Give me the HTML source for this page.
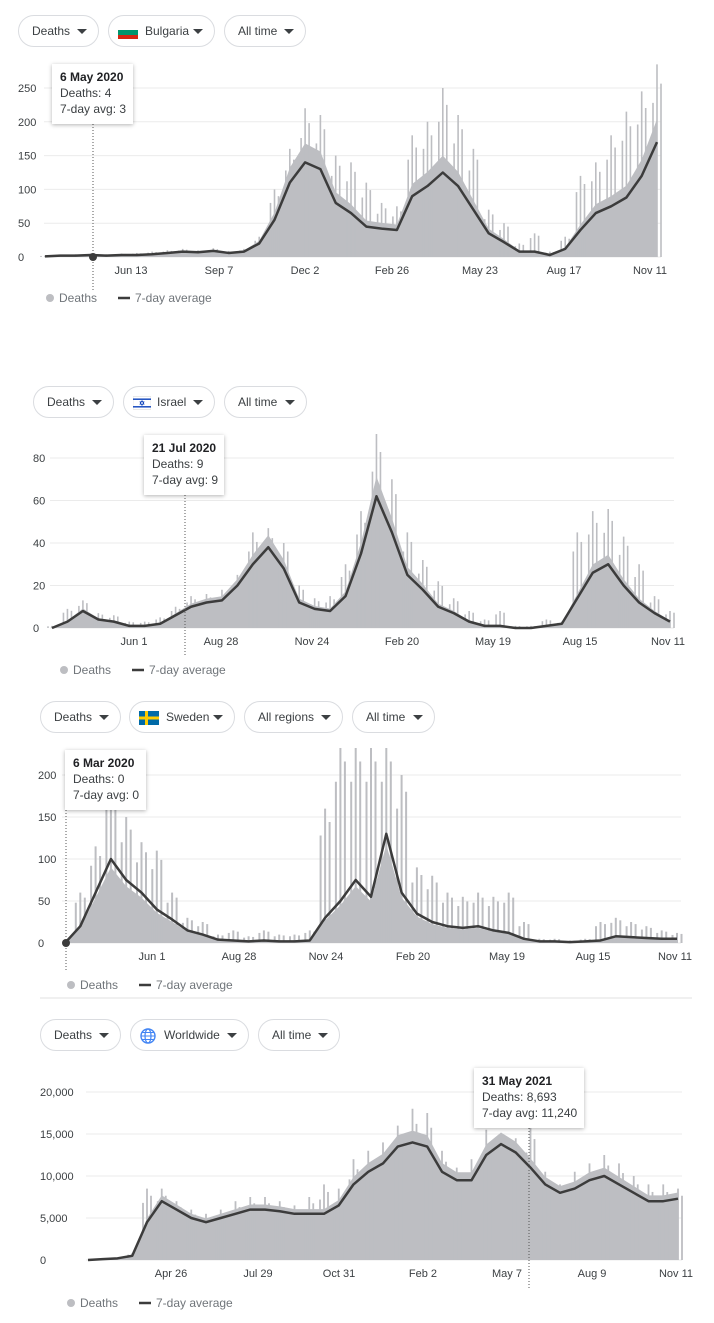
<!DOCTYPE html>
<html><head><meta charset="utf-8"><style>
body{margin:0;width:714px;height:1323px;background:#fff;position:relative;overflow:hidden;font-family:"Liberation Sans",Arial,sans-serif;color:#3c4043}
.pill{position:absolute;height:32px;border:1px solid #dadce0;border-radius:18px;box-sizing:border-box;font-size:12px;line-height:30px;padding-left:13px;color:#3c4043;background:#fff}
.pill .c{position:absolute;right:11px;top:13px;width:0;height:0;border-left:5px solid transparent;border-right:5px solid transparent;border-top:5px solid #3c4043}
.tip{position:absolute;background:#fff;box-shadow:0 1px 4px rgba(0,0,0,.3);font-size:12px;line-height:16px;padding:5px 8px;box-sizing:border-box;color:#3c4043;white-space:nowrap}
.tip b{color:#202124}
.flag{position:absolute;top:9px;left:9px;width:20px;height:14px}
</style></head><body>
<svg id="svg" width="714" height="1323" style="position:absolute;left:0;top:0"></svg>

<div class="pill" style="left:18px;top:15px;width:81px">Deaths<span class="c"></span></div>
<div class="pill" style="left:108px;top:15px;width:107px;padding-left:36px"><svg class="flag" viewBox="0 0 20 14"><rect width="20" height="5" fill="#fff"/><rect y="5" width="20" height="5" fill="#00966e"/><rect y="10" width="20" height="4" fill="#d62612"/></svg>Bulgaria<span class="c"></span></div>
<div class="pill" style="left:224px;top:15px;width:82px">All time<span class="c"></span></div>

<div class="pill" style="left:33px;top:386px;width:81px">Deaths<span class="c"></span></div>
<div class="pill" style="left:123px;top:386px;width:92px;padding-left:33px"><svg class="flag" viewBox="0 0 20 14" style="width:18px"><rect width="20" height="14" fill="#fff" stroke="#ccc" stroke-width=".5"/><rect y="2" width="20" height="1.5" fill="#0038b8"/><rect y="10.5" width="20" height="1.5" fill="#0038b8"/><path d="M10 4.3L12.3 8.3H7.7Z M10 9.7L7.7 5.7H12.3Z" fill="none" stroke="#0038b8" stroke-width=".7"/></svg>Israel<span class="c"></span></div>
<div class="pill" style="left:224px;top:386px;width:83px">All time<span class="c"></span></div>

<div class="pill" style="left:40px;top:701px;width:81px">Deaths<span class="c"></span></div>
<div class="pill" style="left:129px;top:701px;width:106px;padding-left:36px"><svg class="flag" viewBox="0 0 20 14"><rect width="20" height="14" fill="#006aa7"/><rect x="6" width="3" height="14" fill="#fecc00"/><rect y="5.5" width="20" height="3" fill="#fecc00"/></svg>Sweden<span class="c"></span></div>
<div class="pill" style="left:244px;top:701px;width:99px">All regions<span class="c"></span></div>
<div class="pill" style="left:352px;top:701px;width:83px">All time<span class="c"></span></div>

<div class="pill" style="left:40px;top:1019px;width:81px">Deaths<span class="c"></span></div>
<div class="pill" style="left:130px;top:1019px;width:119px;padding-left:33px"><svg class="flag" viewBox="0 0 16 16" style="width:16px;height:16px;top:8px"><circle cx="8" cy="8" r="7" fill="none" stroke="#4285f4" stroke-width="1.4"/><ellipse cx="8" cy="8" rx="3" ry="7" fill="none" stroke="#4285f4" stroke-width="1.2"/><path d="M1 8H15M2 4.5H14M2 11.5H14" stroke="#4285f4" stroke-width="1.1"/></svg>Worldwide<span class="c"></span></div>
<div class="pill" style="left:258px;top:1019px;width:82px">All time<span class="c"></span></div>

<div class="tip" style="left:52px;top:64px;width:81px;height:60px"><b>6 May 2020</b><br>Deaths: 4<br>7-day avg: 3</div>
<div class="tip" style="left:144px;top:435px;width:80px;height:60px"><b>21 Jul 2020</b><br>Deaths: 9<br>7-day avg: 9</div>
<div class="tip" style="left:65px;top:750px;width:81px;height:60px"><b>6 Mar 2020</b><br>Deaths: 0<br>7-day avg: 0</div>
<div class="tip" style="left:474px;top:1068px;width:110px;height:60px"><b>31 May 2021</b><br>Deaths: 8,693<br>7-day avg: 11,240</div>

<script>
const bgAvg=[1,2,2,3,2,3,3,4,6,8,7,9,6,8,20,55,110,140,130,80,65,45,42,40,90,105,125,105,70,35,22,8,8,3,12,40,65,75,88,120,170];
const bgMax=[2,3,4,5,4,5,6,8,10,12,10,13,9,12,30,100,160,220,210,150,140,110,80,75,180,200,250,210,160,70,50,20,35,8,30,120,140,180,215,245,285];
const bgTicks=[0,50,100,150,200,250];
const bgXLabels=["Jun 13","Sep 7","Dec 2","Feb 26","May 23","Aug 17","Nov 11"];

const ilAvg=[0,3,8,4,3,1,1,2,6,10,12,13,20,30,38,28,12,9,8,15,35,62,45,25,18,10,7,3,1,1,0,0,1,2,14,26,30,20,12,7,3];
const ilMax=[1,9,13,7,6,3,3,5,10,15,16,18,25,45,47,40,20,14,15,30,55,92,70,45,32,22,14,8,4,8,1,1,4,3,45,55,56,43,30,15,8];
const ilTicks=[0,20,40,60,80];
const ilXLabels=["Jun 1","Aug 28","Nov 24","Feb 20","May 19","Aug 15","Nov 11"];

const seAvg=[0,20,60,100,75,60,40,28,15,10,4,3,2,3,2,2,3,30,50,75,55,130,60,35,25,20,18,20,15,12,5,2,2,1,2,3,8,7,6,5,5];
const seMax=[0,60,115,200,150,120,110,60,30,25,10,15,8,15,10,10,15,160,240,240,240,240,200,90,80,60,55,60,55,60,25,5,5,3,5,25,30,25,20,15,12];
const seTicks=[0,50,100,150,200];
const seXLabels=["Jun 1","Aug 28","Nov 24","Feb 20","May 19","Aug 15","Nov 11"];

const wwAvg=[0,100,200,500,4500,7000,6000,5000,4500,5000,5500,6000,6000,5800,5500,5500,5500,6500,9000,10500,11500,13500,14000,13500,10500,9500,9500,12500,13800,12800,11000,9000,8000,8500,9500,10000,9000,8000,7000,7000,7300];
const wwMax=[0,200,300,800,8500,8500,7000,6000,5500,6000,7000,7500,7500,7000,6500,7500,9000,8500,12000,13000,14000,16000,18000,17500,13000,11000,12000,15500,15000,14500,16000,10500,9000,10500,11500,12500,11500,10000,9000,9000,8500];
const wwTicks=[0,5000,10000,15000,20000];
const wwXLabels=["Apr 26","Jul 29","Oct 31","Feb 2","May 7","Aug 9","Nov 11"];

const svg=document.getElementById('svg');
const NS='http://www.w3.org/2000/svg';
function mk(tag,attrs,parent){const e=document.createElementNS(NS,tag);for(const k in attrs)e.setAttribute(k,attrs[k]);(parent||svg).appendChild(e);return e;}
function fmt(v){return v.toLocaleString('en-US');}

function chart(id,avg,mx,ticks,xl,cfg){
  const g=mk('g',{});
  
  
  const tmax=ticks[ticks.length-1];
  const y=v=>cfg.y0-(v/tmax)*(cfg.y0-cfg.yTop);
  const n=avg.length;
  const x=i=>cfg.x0+i*(cfg.x1-cfg.x0)/(n-1);
  ticks.forEach(t=>{
    const gl=mk('line',{x1:cfg.gx,x2:cfg.x1+4,y1:y(t),y2:y(t),stroke:'#ebebeb','stroke-width':1},g);
    
    
    const tl=mk('text',{x:cfg.lx,y:y(t)+4,'font-size':11,fill:'#3c4043'},g);
    tl.textContent=fmt(t);
    
    
  });
  const clipTop=cfg.clip;
  const cy=v=>Math.max(clipTop,y(v));
  // area approximating daily bars
  let d='M'+x(0)+','+cfg.y0;
  for(let i=0;i<n;i++)d+=' L'+x(i)+','+cy(avg[i]*cfg.fill);
  d+=' L'+x(n-1)+','+cfg.y0+' Z';
  const ar=mk('path',{d:d,fill:'#bdbec2'},g);
  
  
  for(let i=0;i<n;i++){
    for(let k=-1;k<=1;k++){
      const f=[0.8,1,0.9][k+1];
      const xi=x(i)+k*cfg.sp;
      const b=mk('line',{x1:xi,x2:xi,y1:cfg.y0,y2:cy(Math.max(avg[i],mx[i]*f)),stroke:'#bdbec2','stroke-width':cfg.bw},g);
      
      
    }
  }
  let ld='';
  for(let i=0;i<n;i++)ld+=(i?' L':'M')+x(i)+','+y(avg[i]);
  const ln=mk('path',{d:ld,fill:'none',stroke:'#3c3c3c','stroke-width':2.5,'stroke-linejoin':'round'},g);
  
  
  xl.forEach((s,i)=>{
    const t=mk('text',{x:cfg.xl[i],y:cfg.y0+17,'font-size':11,fill:'#3c4043','text-anchor':'middle'},g);
    t.textContent=s;
    
    
  });
  // hover line
  const hl=mk('line',{x1:cfg.hx,x2:cfg.hx,y1:cfg.hy1,y2:cfg.hy2,stroke:'#555','stroke-width':1,'stroke-dasharray':'1,2'},g);
  
  
  if(cfg.dot){
    const c=mk('circle',{cx:cfg.hx,cy:cfg.y0,r:4,fill:'#3c3c3c'},g);
    
    
  }
  // legend
  const ly=cfg.ly;
  const lc=mk('circle',{cx:cfg.lgx,cy:ly,r:4,fill:'#bdbec2'},g);
  
  
  const lt=mk('text',{x:cfg.lgx+9,y:ly+4,'font-size':12,fill:'#70757a'},g);
  lt.textContent='Deaths';
  
  
  const ll=mk('line',{x1:cfg.lgx+68,x2:cfg.lgx+80,y1:ly,y2:ly,stroke:'#3c3c3c','stroke-width':2.5},g);
  
  
  const la=mk('text',{x:cfg.lgx+85,y:ly+4,'font-size':12,fill:'#70757a'},g);
  la.textContent='7-day average';
  
  
}

chart('bulgaria',bgAvg,bgMax,bgTicks,bgXLabels,{x0:45,x1:657,y0:257,yTop:88,gx:44,lx:18,clip:63,fill:1.2,sp:4,bw:1.6,xl:[131,219,305,392,480,564,650],hx:93,hy1:124,hy2:292,dot:true,ly:298,lgx:50});
chart('israel',ilAvg,ilMax,ilTicks,ilXLabels,{x0:52,x1:670,y0:628,yTop:458,gx:50,lx:33,clip:434,fill:1.15,sp:4,bw:1.6,xl:[134,221,312,402,493,580,668],hx:185,hy1:495,hy2:655,dot:false,ly:670,lgx:64});
chart('sweden',seAvg,seMax,seTicks,seXLabels,{x0:65,x1:677,y0:943,yTop:775,gx:62,lx:38,clip:748,fill:0.9,sp:4.5,bw:2,xl:[152,239,326,413,507,593,675],hx:66,hy1:810,hy2:970,dot:true,ly:985,lgx:71});
chart('world',wwAvg,wwMax,wwTicks,wwXLabels,{x0:88,x1:678,y0:1260,yTop:1092,gx:86,lx:40,clip:1070,fill:1.1,sp:4,bw:1.8,xl:[171,258,339,423,507,592,676],hx:529,hy1:1128,hy2:1290,dot:false,ly:1303,lgx:71});

const sep=mk('line',{x1:40,x2:692,y1:998,y2:998,stroke:'#e0e0e0','stroke-width':1});


</script>
</body></html>
